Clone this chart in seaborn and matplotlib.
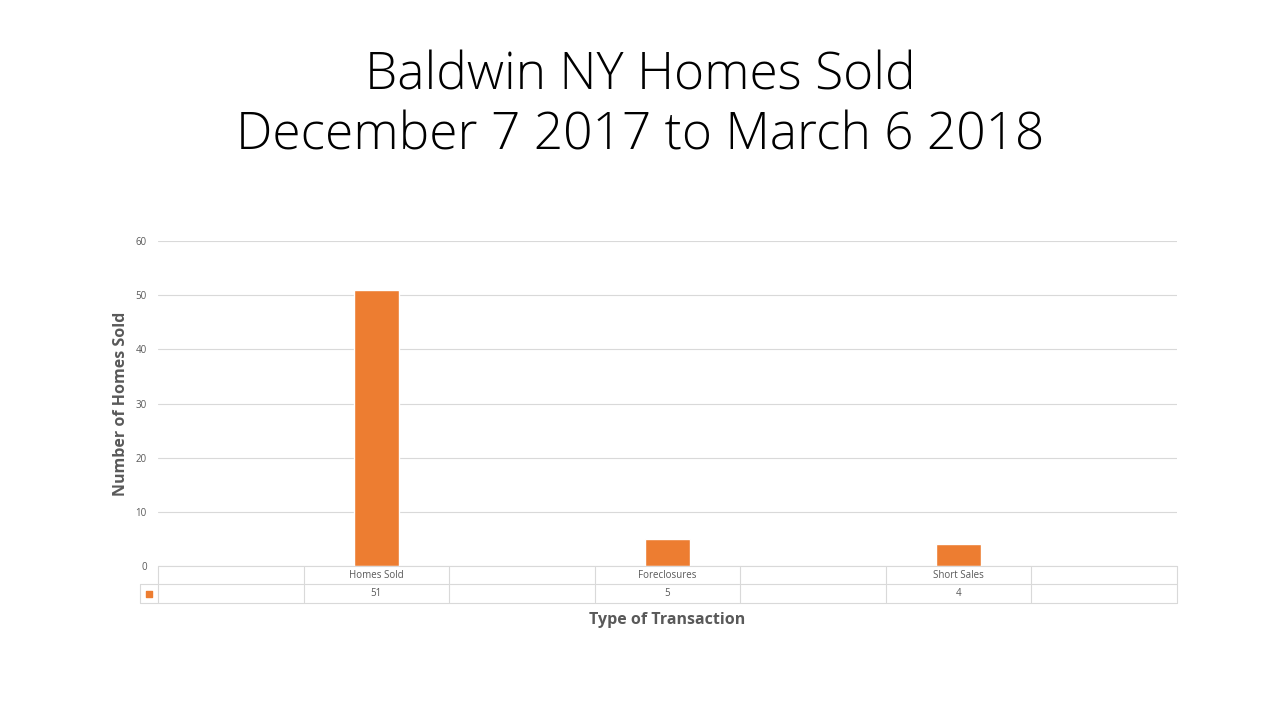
import numpy as np
import matplotlib
matplotlib.use("Agg")
import matplotlib.pyplot as plt
import matplotlib.transforms as mtransforms
import seaborn as sns

# data
categories = ["Homes Sold", "Foreclosures", "Short Sales"]
homes = [51, 5, 4]
y_ticks = [0, 10, 20, 30, 40, 50, 60]
title = "Baldwin NY Homes Sold\nDecember 7 2017 to March 6 2018"

# table columns: empty spacer columns between the categories
columns = ["", "Homes Sold", "", "Foreclosures", "", "Short Sales", ""]
order = ["_gap%d" % i if c == "" else c for i, c in enumerate(columns)]

sns.set_theme(style="white")
plt.rcParams["font.family"] = ["Open Sans", "DejaVu Sans"]

orange = "#ED7D31"
grey_txt = "#595959"
grid_c = "#D9D9D9"

fig = plt.figure(figsize=(12.8, 7.2), dpi=100)
ax = fig.add_axes([158 / 1280, 1 - 566 / 720, 1019 / 1280, 325 / 720])

sns.barplot(x=categories, y=homes, order=order, color=orange, width=0.31,
            saturation=1, ax=ax)

ax.set_xlim(-0.5, len(columns) - 0.5)
ax.set_ylim(0, 60)
ax.set_yticks(y_ticks)
ax.set_yticklabels([str(t) for t in y_ticks])
ax.tick_params(axis="y", length=0, pad=8, labelsize=7, labelcolor=grey_txt)
ax.set_xticks([])
ax.set_xlabel("")
ax.set_ylabel("Number of Homes Sold", fontsize=11.5, fontweight="bold",
              color=grey_txt)
ax.yaxis.set_label_coords((129 - 158) / 1019, 0.5)
for s in ax.spines.values():
    s.set_visible(False)
ax.yaxis.grid(True, color=grid_c, linewidth=0.8)
ax.set_axisbelow(True)

# data table under the plot
tr = mtransforms.blended_transform_factory(ax.transData, ax.transAxes)
r1 = -18 / 325
r2 = -37 / 325
key_x = -0.5 - 18 / (1019 / len(columns))
lk = dict(color=grid_c, linewidth=0.8, transform=tr, clip_on=False)
ax.plot([-0.5, len(columns) - 0.5], [0, 0], **lk)
ax.plot([key_x, len(columns) - 0.5], [r1, r1], **lk)
ax.plot([key_x, len(columns) - 0.5], [r2, r2], **lk)
ax.plot([key_x, key_x], [r1, r2], **lk)
for b in np.arange(-0.5, len(columns)):
    ax.plot([b, b], [0, r2], **lk)

values = dict(zip(categories, homes))
for i, c in enumerate(columns):
    if c:
        ax.text(i, r1 / 2, c, transform=tr, ha="center", va="center",
                fontsize=7, color=grey_txt)
        ax.text(i, (r1 + r2) / 2, str(values[c]), transform=tr, ha="center",
                va="center", fontsize=7, color=grey_txt)

ax.scatter([(key_x - 0.5) / 2], [(r1 + r2) / 2], marker="s", s=22,
           color=orange, transform=tr, clip_on=False)

fig.text(667 / 1280, 1 - 620 / 720, "Type of Transaction", ha="center",
         va="center", fontsize=11.5, fontweight="bold", color=grey_txt)

fig.text(0.5, 1 - 106 / 720, title, ha="center", va="center",
         fontsize=37, color="black", linespacing=1.22,
         family=["Open Sans", "DejaVu Sans"], fontweight=300)

fig.savefig("out.png", dpi=100, facecolor="white")
